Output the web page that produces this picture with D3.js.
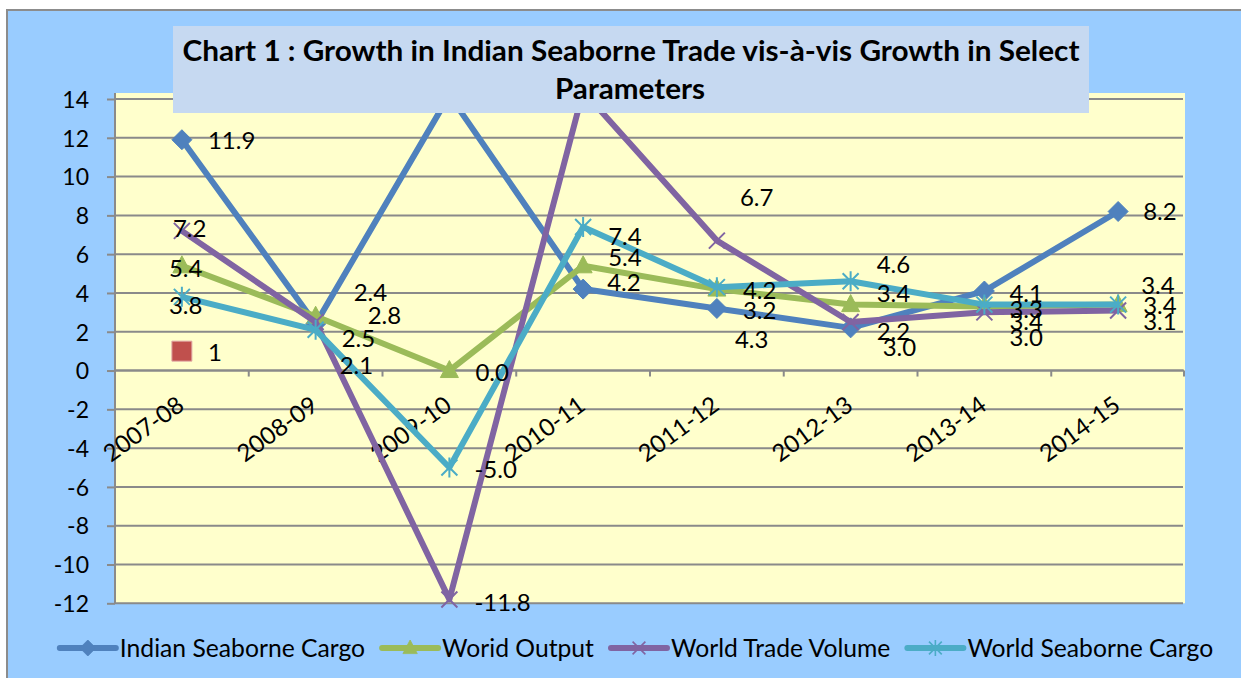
<!DOCTYPE html>
<html>
<head>
<meta charset="utf-8">
<script src="https://cdn.jsdelivr.net/npm/d3@7"></script>
<style>
  body { margin: 0; background: #fff; }
  svg { display: block; }
  text { font-family: Lato, "Open Sans", sans-serif; fill: #000; }
</style>
</head>
<body>
<svg id="chart"></svg>
<script>
// categories and values
var years = ["2007-08", "2008-09", "2009-10", "2010-11", "2011-12", "2012-13", "2013-14", "2014-15"];
var indianCargo   = [11.9, 2.4, 14.2, 4.2, 3.2, 2.2, 4.1, 8.2];
var worldOutput   = [5.4, 2.8, 0.0, 5.4, 4.2, 3.4, 3.3, 3.4];
var worldTrade    = [7.2, 2.5, -11.8, 14.4, 6.7, 2.5, 3.0, 3.1];
var worldSeaborne = [3.8, 2.1, -5.0, 7.4, 4.3, 4.6, 3.4, 3.4];
var strayValue    = [1];   // lone red point at 2007-08

// data label texts as printed on the chart
var indianLabels    = ["11.9", "2.4", "14.2", "4.2", "3.2", "2.2", "4.1", "8.2"];
var outputLabels    = ["5.4", "2.8", "0.0", "5.4", "4.2", "3.4", "3.3", "3.4"];
var tradeLabels     = ["7.2", "2.5", "-11.8", "14.4", "6.7", "3.0", "3.0", "3.1"];
var seaborneLabels  = ["3.8", "2.1", "-5.0", "7.4", "4.3", "4.6", "3.4", "3.4"];
var strayLabels     = ["1"];

var yTicks = [-12, -10, -8, -6, -4, -2, 0, 2, 4, 6, 8, 10, 12, 14];
var seriesNames = ["Indian Seaborne Cargo", "Worid Output", "World Trade Volume", "World Seaborne Cargo"];

// label nudges (dx from point, dy of label centre from point)
var labelOffsets = {
  indian:   [[26, 1], [38, -32], [26, 0], [24, -7], [26, 2], [26, 3], [25, 2], [25, 0]],
  output:   [[-13, 3], [52, -1], [26, 2], [25, -8], [26, 1], [26, -11], [25, 3], [25, 1]],
  trade:    [[-9, -3], [26, 16], [25, 3], [25, 0], [23, -43], [32, 25], [25, 25], [25, 11]],
  seaborne: [[-13, 9], [24, 36], [25, 2], [25, 9], [18, 52], [26, -17], [25, 17], [23, -19]],
  stray:    [[26, 1]]
};

var W = 1241, H = 678;
var plot = { left: 115, right: 1185, top: 93, bottom: 603.3 };

var svg = d3.select("#chart").attr("width", W).attr("height", H);

// chart frame
svg.append("rect").attr("x", 7).attr("y", 10).attr("width", W).attr("height", H)
  .attr("fill", "#99ccff").attr("stroke", "#8c8c8c").attr("stroke-width", 2);

var x = d3.scaleBand().domain(years).range([plot.left, plot.right]);
var y = d3.scaleLinear().domain([-12, 14]).range([plot.bottom, 99]);
var cx = function(i) { return x(years[i]) + x.bandwidth() / 2; };

svg.append("rect")
  .attr("x", plot.left).attr("y", plot.top)
  .attr("width", plot.right - plot.left).attr("height", plot.bottom - plot.top)
  .attr("fill", "#ffffcc");

// gridlines
svg.append("g").selectAll("line").data(yTicks).join("line")
  .attr("x1", plot.left).attr("x2", plot.right - 2)
  .attr("y1", function(d) { return y(d); }).attr("y2", function(d) { return y(d); })
  .attr("stroke", "#8a8a8a").attr("stroke-width", 2);

// y axis
var yAxis = d3.axisLeft(y).tickValues(yTicks).tickSize(8).tickPadding(18)
  .tickFormat(function(d) { return String(d); });
var gy = svg.append("g").attr("transform", "translate(" + plot.left + ",0)").call(yAxis);
gy.select(".domain").remove();
gy.selectAll(".tick line").attr("stroke", "#8a8a8a").attr("stroke-width", 2);
gy.selectAll(".tick text").style("font-size", "23px").attr("dy", "0.36em");
svg.append("line").attr("x1", plot.left).attr("x2", plot.left)
  .attr("y1", plot.top).attr("y2", plot.bottom)
  .attr("stroke", "#8a8a8a").attr("stroke-width", 2);

// x axis crossing at zero, ticks on category boundaries
var y0 = y(0);
var bounds = years.map(function(d) { return x(d); }).concat([plot.right - 1]);
svg.append("line").attr("x1", plot.left).attr("x2", plot.right - 1)
  .attr("y1", y0).attr("y2", y0).attr("stroke", "#8a8a8a").attr("stroke-width", 2);
svg.append("g").selectAll("line").data(bounds).join("line")
  .attr("x1", function(d) { return d; }).attr("x2", function(d) { return d; })
  .attr("y1", y0).attr("y2", y0 + 6)
  .attr("stroke", "#8a8a8a").attr("stroke-width", 2);
svg.append("g").selectAll("text").data(years).join("text")
  .attr("transform", function(d, i) { return "translate(" + (cx(i) + 4) + "," + (y0 + 38) + ") rotate(-36)"; })
  .attr("text-anchor", "end")
  .style("font-size", "24px")
  .text(function(d) { return d; });

// markers
function markerPath(type) {
  if (type === "diamond") return "M0,-10L10,0L0,10L-10,0Z";
  if (type === "triangle") return "M0,-10L9,7L-9,7Z";
  if (type === "x") return "M-8,-8L8,8M-8,8L8,-8";
  if (type === "star") return "M0,-10L0,10M-8,-8L8,8M-8,8L8,-8";
  if (type === "square") return "M-10,-10H10V10H-10Z";
}

var series = [
  { key: "indian", values: indianCargo, labels: indianLabels, color: "#4f81bd", marker: "diamond", filled: true },
  { key: "output", values: worldOutput, labels: outputLabels, color: "#9bbb59", marker: "triangle", filled: true },
  { key: "trade", values: worldTrade, labels: tradeLabels, color: "#8064a2", marker: "x", filled: false },
  { key: "seaborne", values: worldSeaborne, labels: seaborneLabels, color: "#4bacc6", marker: "star", filled: false }
];

var line = d3.line()
  .x(function(d, i) { return cx(i); })
  .y(function(d) { return y(d); });

series.forEach(function(s) {
  svg.append("path")
    .attr("d", line(s.values))
    .attr("fill", "none")
    .attr("stroke", s.color)
    .attr("stroke-width", 6)
    .attr("stroke-linejoin", "round");
  svg.append("g").selectAll("path").data(s.values).join("path")
    .attr("transform", function(d, i) { return "translate(" + cx(i) + "," + y(d) + ")"; })
    .attr("d", markerPath(s.marker))
    .attr("fill", s.filled ? s.color : "none")
    .attr("stroke", s.color)
    .attr("stroke-width", s.filled ? 1 : 2);
});

// lone red point
svg.append("g").selectAll("path").data(strayValue).join("path")
  .attr("transform", function(d, i) { return "translate(" + cx(i) + "," + y(d) + ")"; })
  .attr("d", markerPath("square"))
  .attr("fill", "#c0504d").attr("stroke", "#e0a9a7").attr("stroke-width", 1);

// data labels
var labelSets = series.map(function(s) { return { key: s.key, values: s.values, labels: s.labels }; })
  .concat([{ key: "stray", values: strayValue, labels: strayLabels }]);
labelSets.forEach(function(s) {
  svg.append("g").selectAll("text").data(s.values).join("text")
    .attr("x", function(d, i) { return cx(i) + labelOffsets[s.key][i][0]; })
    .attr("y", function(d, i) { return y(d) + labelOffsets[s.key][i][1]; })
    .attr("dy", "0.36em")
    .style("font-size", "24px")
    .text(function(d, i) { return s.labels[i]; });
});

// title box
svg.append("rect").attr("x", 173).attr("y", 26).attr("width", 916).attr("height", 87)
  .attr("fill", "#c6d9f1");
svg.append("text").attr("x", 631).attr("y", 61).attr("text-anchor", "middle")
  .style("font-size", "29px").style("font-weight", "bold")
  .attr("textLength", 897).attr("lengthAdjust", "spacingAndGlyphs")
  .text("Chart 1 : Growth in Indian Seaborne Trade vis-\u00e0-vis Growth in Select");
svg.append("text").attr("x", 630).attr("y", 99).attr("text-anchor", "middle")
  .style("font-size", "29px").style("font-weight", "bold")
  .attr("textLength", 150).attr("lengthAdjust", "spacingAndGlyphs")
  .text("Parameters");

// legend
var legend = svg.append("g");
var lx = 0;
series.forEach(function(s, i) {
  var g = legend.append("g").attr("transform", "translate(" + lx + ",0)");
  g.append("line").attr("x1", 0).attr("x2", 56).attr("y1", 0).attr("y2", 0)
    .attr("stroke", s.color).attr("stroke-width", 6).attr("stroke-linecap", "round");
  g.append("path").attr("transform", "translate(28,0) scale(0.8)")
    .attr("d", markerPath(s.marker))
    .attr("fill", s.filled ? s.color : "none")
    .attr("stroke", s.color).attr("stroke-width", s.filled ? 1 : 2);
  var t = g.append("text").attr("x", 60).attr("dy", "0.36em")
    .style("font-size", "24.7px").text(seriesNames[i]);
  lx += 60 + t.node().getComputedTextLength() + 17;
});
var legendWidth = lx - 17;
legend.attr("transform", "translate(" + (636.5 - legendWidth / 2) + ",648)");
</script>
</body>
</html>
